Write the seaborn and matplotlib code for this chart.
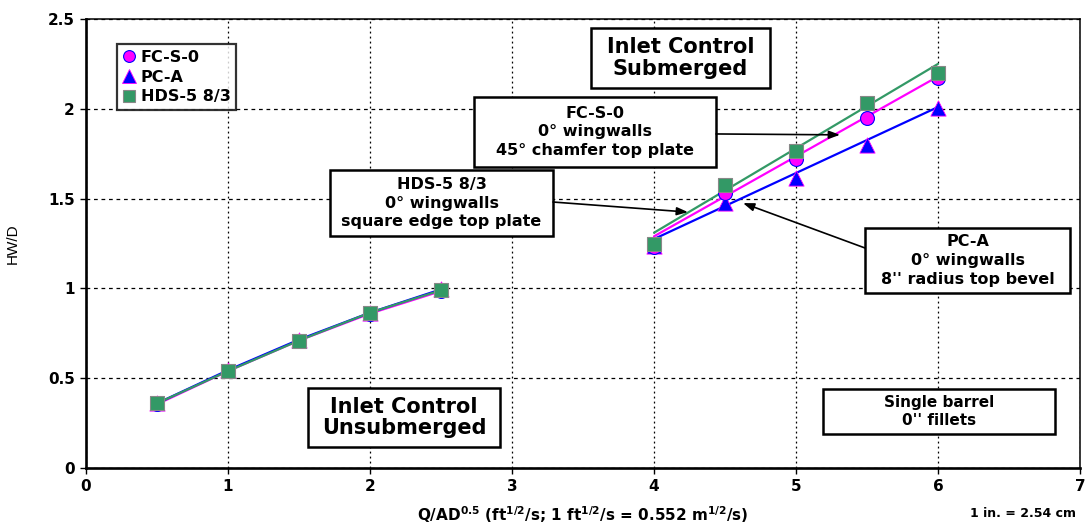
import numpy as np
import pandas as pd
import matplotlib
matplotlib.use("Agg")
import matplotlib.pyplot as plt
from matplotlib.lines import Line2D
from matplotlib.patches import Rectangle
import seaborn as sns

# ---- data ----
x_unsub = [0.5, 1.0, 1.5, 2.0, 2.5]
fc_unsub = [0.355, 0.54, 0.71, 0.86, 0.985]
pc_unsub = [0.36, 0.545, 0.715, 0.865, 0.995]
hds_unsub = [0.36, 0.54, 0.71, 0.865, 0.99]

x_sub = [4.0, 4.5, 5.0, 5.5, 6.0]
fc_sub = [1.23, 1.53, 1.72, 1.95, 2.17]
pc_sub = [1.235, 1.475, 1.615, 1.80, 2.005]
hds_sub = [1.245, 1.575, 1.765, 2.03, 2.20]

# straight submerged trend lines (end points)
fit_x = [4.0, 6.0]
fc_fit = [1.29, 2.18]
pc_fit = [1.275, 2.01]
hds_fit = [1.31, 2.25]

series_names = ["FC-S-0", "PC-A", "HDS-5 8/3"]
x_ticks = [0, 1, 2, 3, 4, 5, 6, 7]
y_ticks = [0, 0.5, 1, 1.5, 2, 2.5]
y_tick_labels = ["0", "0.5", "1", "1.5", "2", "2.5"]

MAGENTA = "#FF00FF"
BLUE = "#0000FF"
GREEN = "#339966"

sns.set_theme(style="white")
plt.rcParams["font.family"] = ["DejaVu Sans", "Liberation Sans"]
plt.rcParams["mathtext.fontset"] = "dejavusans"
plt.rcParams.update({
    "text.color": "black",
    "axes.labelcolor": "black",
    "xtick.color": "black",
    "ytick.color": "black",
})

fig = plt.figure(figsize=(10.85, 5.28), dpi=100)
ax = fig.add_axes([0.0793, 0.1136, 0.9161, 0.8504])

# unsubmerged: lines through points
sns.lineplot(x=x_unsub, y=fc_unsub, color=MAGENTA, lw=1.6, ax=ax)
sns.lineplot(x=x_unsub, y=pc_unsub, color=BLUE, lw=1.6, ax=ax)
sns.lineplot(x=x_unsub, y=hds_unsub, color=GREEN, lw=1.6, ax=ax)

# submerged: straight trend lines
sns.lineplot(x=fit_x, y=pc_fit, color=BLUE, lw=1.6, ax=ax)
sns.lineplot(x=fit_x, y=fc_fit, color=MAGENTA, lw=1.6, ax=ax)
sns.lineplot(x=fit_x, y=hds_fit, color=GREEN, lw=1.6, ax=ax)

# markers
sns.scatterplot(x=x_unsub + x_sub, y=pc_unsub + pc_sub, marker="^", s=120,
                facecolor=BLUE, edgecolor=MAGENTA, linewidth=0.6, ax=ax, zorder=4)
sns.scatterplot(x=x_unsub + x_sub, y=fc_unsub + fc_sub, marker="o", s=100,
                facecolor=MAGENTA, edgecolor=BLUE, linewidth=0.8, ax=ax, zorder=5)
sns.scatterplot(x=x_unsub + x_sub, y=hds_unsub + hds_sub, marker="s", s=100,
                facecolor=GREEN, edgecolor="#888888", linewidth=0.8, ax=ax, zorder=6)

ax.set_xlim(0, 7)
ax.set_ylim(0, 2.5)
ax.set_xticks(x_ticks)
ax.set_yticks(y_ticks)
ax.set_yticklabels(y_tick_labels)
ax.tick_params(axis="both", which="major", direction="out", length=4, width=1,
               color="black", labelcolor="black", labelsize=11, pad=4,
               bottom=True, left=True)
for lab in ax.get_xticklabels() + ax.get_yticklabels():
    lab.set_fontweight("bold")

ax.xaxis.grid(True, linestyle=(0, (1.5, 2.5)), color="black", lw=0.9)
ax.yaxis.grid(True, linestyle=(0, (3, 3)), color="black", lw=0.9)
ax.set_axisbelow(True)

for side in ["left", "bottom"]:
    ax.spines[side].set_linewidth(1.9)
    ax.spines[side].set_color("black")
for side in ["top", "right"]:
    ax.spines[side].set_linewidth(1.1)
    ax.spines[side].set_color("black")

ax.set_xlabel(r"Q/AD$^{\mathbf{0.5}}$ (ft$^{\mathbf{1/2}}$/s; 1 ft$^{\mathbf{1/2}}$/s = 0.552 m$^{\mathbf{1/2}}$/s)",
              fontsize=11, fontweight="bold", labelpad=7)
ax.set_ylabel("HW/D", fontsize=11, family=["Liberation Sans"], labelpad=20)

# legend
handles = [
    Line2D([], [], ls="none", marker="o", markersize=8.5, markerfacecolor=MAGENTA,
           markeredgecolor=BLUE, markeredgewidth=0.8),
    Line2D([], [], ls="none", marker="^", markersize=9.5, markerfacecolor=BLUE,
           markeredgecolor=MAGENTA, markeredgewidth=0.6),
    Line2D([], [], ls="none", marker="s", markersize=8.5, markerfacecolor=GREEN,
           markeredgecolor="#888888", markeredgewidth=0.8),
]
leg = ax.legend(handles, series_names, loc="upper left", bbox_to_anchor=(0.031, 0.944),
                borderaxespad=0, frameon=True, fancybox=False,
                prop={"size": 11.5, "weight": "bold"},
                handlelength=0.8, handletextpad=0.35, labelspacing=0.3,
                borderpad=0.35)
leg.get_frame().set_edgecolor("black")
leg.get_frame().set_linewidth(1.6)


def add_box(x0, x1, y0, y1):
    ax.add_patch(Rectangle((x0, y0), x1 - x0, y1 - y0, fc="white", ec="black",
                           lw=1.8, zorder=9, clip_on=False))


# annotation boxes (layout positions in data units)
add_box(3.556, 4.817, 2.116, 2.450)
ax.text(4.186, 2.283, "Inlet Control\nSubmerged", ha="center", va="center",
        fontsize=15, fontweight="bold", linespacing=1.1, zorder=10)

add_box(1.563, 2.915, 0.117, 0.445)
ax.text(2.239, 0.281, "Inlet Control\nUnsubmerged", ha="center", va="center",
        fontsize=15, fontweight="bold", linespacing=1.1, zorder=10)

arrow = dict(arrowstyle="-|>,head_length=0.55,head_width=0.2", color="black", lw=1.2,
             shrinkA=0, shrinkB=0)

note_kw = dict(ha="center", va="center", fontsize=11.5, fontweight="bold",
               linespacing=1.3, zorder=10)

add_box(2.732, 4.437, 1.676, 2.066)
ax.text(3.585, 1.871, "FC-S-0\n0° wingwalls\n45° chamfer top plate", **note_kw)
ax.annotate("", xy=(5.31, 1.855), xytext=(4.437, 1.86), arrowprops=arrow, zorder=10)

add_box(1.718, 3.289, 1.292, 1.659)
ax.text(2.504, 1.475, "HDS-5 8/3\n0° wingwalls\nsquare edge top plate", **note_kw)
ax.annotate("", xy=(4.239, 1.425), xytext=(3.289, 1.481), arrowprops=arrow, zorder=10)

add_box(5.486, 6.930, 0.974, 1.336)
ax.text(6.208, 1.155, "PC-A\n0° wingwalls\n8'' radius top bevel", **note_kw)
ax.annotate("", xy=(4.627, 1.475), xytext=(5.486, 1.225), arrowprops=arrow, zorder=10)

add_box(5.190, 6.824, 0.189, 0.440)
ax.text(6.007, 0.314, "Single barrel\n0'' fillets", ha="center", va="center",
        fontsize=11, fontweight="bold", linespacing=1.2, zorder=10)

fig.text(0.992, 0.027, "1 in. = 2.54 cm", ha="right", va="center", fontsize=9,
         fontweight="bold")

fig.savefig("out.png", dpi=100)
